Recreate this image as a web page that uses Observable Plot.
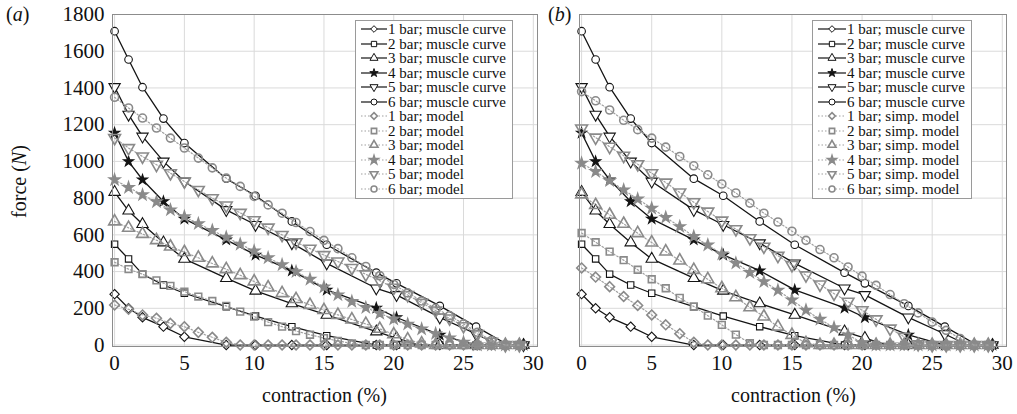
<!DOCTYPE html>
<html><head><meta charset="utf-8">
<script src="https://cdn.jsdelivr.net/npm/d3@7"></script>
<script src="https://cdn.jsdelivr.net/npm/@observablehq/plot@0.6"></script>
<style>
body{margin:0;background:#fff;font-family:"Liberation Serif",serif;}
#wrap{position:relative;width:1017px;height:414px;overflow:hidden;background:#fff;}
svg text{font-family:"Liberation Serif",serif !important;}
.abs{position:absolute;white-space:nowrap;color:#111;font-family:"Liberation Serif",serif;}
.legend{position:absolute;background:#fff;border:1px solid #9a9a9a;font-size:15px;line-height:14.5px;padding:1px 6px 2px 5px;color:#111;font-family:"Liberation Serif",serif;}
.legend .row{display:flex;align-items:center;height:14.5px;white-space:nowrap;}
.legend svg{display:block;margin-right:1px;}
</style></head><body><div id="wrap"></div>
<script>
// ---------- data ----------
const xTicks = [0, 5, 10, 15, 20, 25, 30];
const yTicks = [0, 200, 400, 600, 800, 1000, 1200, 1400, 1600, 1800];

// muscle curves (same in both panels)
const muscleX = [0, 1, 2, 3.5, 5, 8, 10.1, 12.7, 15.2, 18.75, 20.2, 23.3, 25.9, 29.3];
const muscle1 = [277, 200, 151, 100, 45, 0, 0, 0, 0, 0, 0, 0, 0, 0];
const muscle2 = [549, 469, 386, 327, 282, 209, 158, 100, 51, 0, 0, 0, 0, 0];
const muscle3 = [833, 731, 658, 558, 469, 364, 295, 226, 164, 73, 38, 0, 0, 0];
const muscle4 = [1155, 1000, 900, 782, 687, 573, 491, 405, 300, 202, 150, 55, 0, 0];
const muscle5 = [1406, 1255, 1136, 1000, 891, 736, 655, 555, 445, 309, 273, 151, 60, 0];
const muscle6 = [1709, 1555, 1404, 1233, 1100, 906, 813, 673, 546, 394, 336, 213, 100, 0];
const muscleZeroAt = [8, 18.75, 21.8, 25.9, 27.5, 28.2];

// model curves, one value per 1 % contraction
const modelX = [0,1,2,3,4,5,6,7,8,9,10,11,12,13,14,15,16,17,18,19,20,21,22,23,24,25,26,27,28,29];
// panel (a): model
const model1 = [218,195,164,146,118,100,69,42,15,0,0,0,0,0,0,0,0,0,0,0,0,0,0,0,0,0,0,0,0,0];
const model2 = [451,413,386,352,322,291,264,240,213,182,155,125,100,76,56,38,22,9,0,0,0,0,0,0,0,0,0,0,0,0];
const model3 = [673,638,605,571,536,506,475,444,413,380,346,313,282,250,218,190,164,139,115,88,58,30,8,0,0,0,0,0,0,0];
const model4 = [900,858,818,780,736,699,661,624,587,549,512,475,437,400,358,316,273,237,204,172,142,114,87,62,38,15,0,0,0,0];
const model5 = [1128,1073,1027,982,936,891,845,800,760,720,680,640,600,560,525,490,455,420,385,350,312,272,230,188,145,103,60,18,0,0];
const model6 = [1349,1291,1236,1182,1127,1073,1018,965,909,864,809,763,718,667,618,570,525,475,428,378,330,284,240,200,160,115,70,25,0,0];
// panel (b): simplified model
const simp1 = [420,370,318,264,215,164,110,62,15,0,0,0,0,0,0,0,0,0,0,0,0,0,0,0,0,0,0,0,0,0];
const simp2 = [610,560,509,462,410,358,309,257,210,160,110,57,10,0,0,0,0,0,0,0,0,0,0,0,0,0,0,0,0,0];
const simp3 = [820,762,709,660,609,558,509,460,409,358,309,260,205,155,100,55,10,0,0,0,0,0,0,0,0,0,0,0,0,0];
const simp4 = [990,945,895,845,795,745,695,645,591,545,496,446,395,345,298,245,190,140,95,55,12,0,0,0,0,0,0,0,0,0];
const simp5 = [1180,1130,1080,1031,985,936,885,831,778,727,678,631,582,536,486,436,380,330,280,236,190,140,90,45,5,0,0,0,0,0];
const simp6 = [1380,1330,1280,1224,1173,1127,1078,1027,976,927,877,828,773,718,670,620,570,520,475,425,375,325,275,225,175,125,80,35,0,0];

const legendA = ["1 bar; muscle curve","2 bar; muscle curve","3 bar; muscle curve","4 bar; muscle curve","5 bar; muscle curve","6 bar; muscle curve",
  "1 bar; model","2 bar; model","3 bar; model","4 bar; model","5 bar; model","6 bar; model"];
const legendB = ["1 bar; muscle curve","2 bar; muscle curve","3 bar; muscle curve","4 bar; muscle curve","5 bar; muscle curve","6 bar; muscle curve",
  "1 bar; simp. model","2 bar; simp. model","3 bar; simp. model","4 bar; simp. model","5 bar; simp. model","6 bar; simp. model"];

// ---------- styling ----------
const H = 414;
const xDomain = [-0.15, 30.3];
const yDomain = [-8, 1800];
const BLACK = "#141414", GREY = "#8a8a8a", GREYLINE = "#a0a0a0";
const triDown = {draw(ctx, size){ const y = -Math.sqrt(size / (Math.sqrt(3) * 3)); const s3 = Math.sqrt(3);
  ctx.moveTo(0, -2 * y); ctx.lineTo(-s3 * y, y); ctx.lineTo(s3 * y, y); ctx.closePath(); }};
const symbols = [d3.symbolDiamond2, d3.symbolSquare, d3.symbolTriangle, d3.symbolStar, triDown, d3.symbolCircle];
const symbolNames = ["diamond2", "square", "triangle", "star", triDown, "circle"];
const rBlack = [4.2, 3.6, 4.2, 3.2, 4.2, 3.8];
const rGrey  = [4.4, 3.8, 4.4, 3.2, 4.4, 4.0];

const muscles = [muscle1, muscle2, muscle3, muscle4, muscle5, muscle6];

function muscleLine(i){
  const F = muscles[i], z = muscleZeroAt[i];
  const pts = [];
  muscleX.forEach((x, j) => { if (F[j] > 0) pts.push({x, y: F[j]}); });
  pts.push({x: z, y: 0});
  muscleX.forEach((x, j) => { if (F[j] === 0 && x > z) pts.push({x, y: 0}); });
  return pts.sort((a, b) => a.x - b.x);
}
function musclePts(i){ return muscleX.map((x, j) => ({x, y: muscles[i][j]})); }
function modelPts(F){ return modelX.map((x, j) => ({x, y: F[j]})); }

function panel(models, width, marginLeft, marginRight, showY){
  const marks = [
    Plot.ruleX(xTicks, {stroke: "#dadada", strokeWidth: 1}),
    Plot.ruleY(yTicks, {stroke: "#dadada", strokeWidth: 1}),
  ];
  muscles.forEach((F, i) => {
    marks.push(Plot.line(muscleLine(i), {x: "x", y: "y", stroke: BLACK, strokeWidth: 1.3}));
  });
  muscles.forEach((F, i) => {
    marks.push(Plot.dot(musclePts(i), {x: "x", y: "y", symbol: symbolNames[i], r: rBlack[i],
      stroke: BLACK, strokeWidth: 1.1, fill: i === 3 ? BLACK : "white"}));
  });
  models.forEach((F, i) => {
    marks.push(Plot.line(modelPts(F), {x: "x", y: "y", stroke: GREYLINE, strokeWidth: 1.2, strokeDasharray: "1.5,2"}));
    marks.push(Plot.dot(modelPts(F), {x: "x", y: "y", symbol: symbolNames[i], r: rGrey[i],
      stroke: GREY, strokeWidth: 1.6, fill: i === 3 ? GREY : "none"}));
  });
  marks.push(Plot.frame({stroke: "#8c8c8c", strokeWidth: 1}));
  return Plot.plot({
    width, height: H, marginLeft, marginRight, marginTop: 14, marginBottom: 68,
    style: {fontFamily: "Liberation Serif, serif", fontSize: "21px", color: "#111", background: "transparent"},
    x: {domain: xDomain, ticks: xTicks, tickSize: 0, tickPadding: 9, tickFormat: d3.format("d"), label: null},
    y: {domain: yDomain, ticks: yTicks, tickSize: 0, tickPadding: 8, tickFormat: d3.format("d"), label: null, axis: showY ? "left" : null},
    marks
  });
}

const wrap = document.getElementById("wrap");
const pa = panel([model1, model2, model3, model4, model5, model6], 545, 112, 8, true);
pa.style.position = "absolute"; pa.style.left = "0px"; pa.style.top = "0px";
wrap.appendChild(pa);
const pb = panel([simp1, simp2, simp3, simp4, simp5, simp6], 472, 34, 11, false);
pb.style.position = "absolute"; pb.style.left = "545px"; pb.style.top = "0px";
wrap.appendChild(pb);

function addText(html, left, top, size, extra){
  const d = document.createElement("div"); d.className = "abs"; d.innerHTML = html;
  d.style.left = left + "px"; d.style.top = top + "px"; d.style.fontSize = size + "px";
  if (extra) Object.assign(d.style, extra);
  wrap.appendChild(d); return d;
}
addText("(<i>a</i>)", 6, 3, 20);
addText("(<i>b</i>)", 548, 3, 20);
addText("contraction (%)", 262, 384, 20);
addText("contraction (%)", 731, 384, 20);
addText("force (<i>N</i>)", -26, 170, 20, {transform: "rotate(-90deg)", transformOrigin: "50% 50%", width: "90px", textAlign: "center"});

function legend(labels, left, top, swW){
  const box = document.createElement("div"); box.className = "legend";
  box.style.left = left + "px"; box.style.top = top + "px";
  labels.forEach((lab, i) => {
    const k = i % 6, isModel = i >= 6;
    const row = document.createElement("div"); row.className = "row";
    const svg = d3.create("svg").attr("width", swW).attr("height", 14);
    svg.append("line").attr("x1", 0).attr("x2", swW).attr("y1", 7).attr("y2", 7)
      .attr("stroke", isModel ? GREYLINE : BLACK).attr("stroke-width", 1.2)
      .attr("stroke-dasharray", isModel ? "1.5,2" : null);
    svg.append("path").attr("transform", `translate(${swW / 2},7)`)
      .attr("d", d3.symbol(symbols[k], k === 3 ? 22 : 28)())
      .attr("fill", k === 3 ? (isModel ? GREY : BLACK) : "white")
      .attr("stroke", isModel ? GREY : BLACK).attr("stroke-width", isModel ? 1.6 : 1);
    row.appendChild(svg.node());
    const t = document.createElement("span"); t.textContent = lab; row.appendChild(t);
    box.appendChild(row);
  });
  wrap.appendChild(box);
}
legend(legendA, 355, 20, 26);
legend(legendB, 812, 20, 28);
</script></body></html>
